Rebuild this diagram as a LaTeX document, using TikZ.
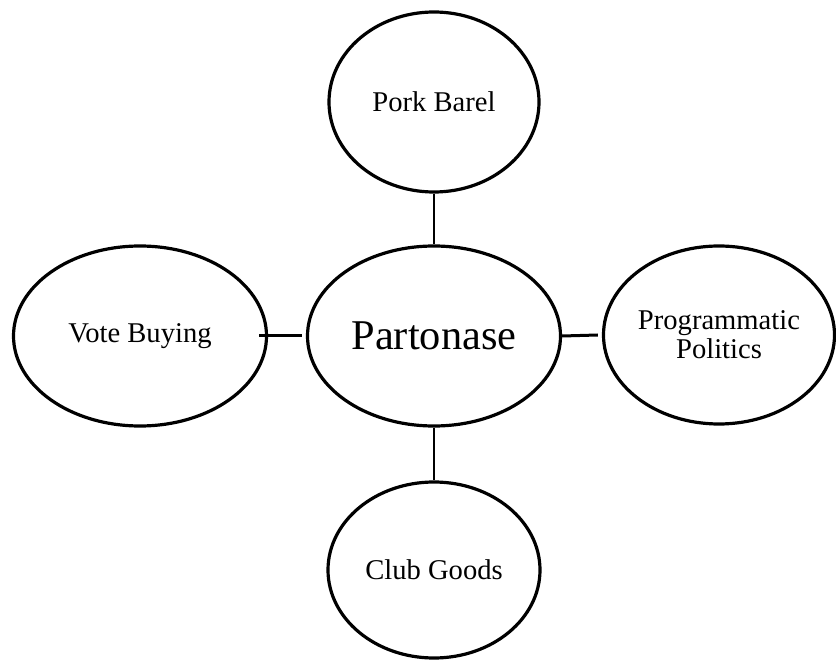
\documentclass[tikz,border=0pt]{standalone}
\usepackage{fontspec}
\setmainfont{Liberation Serif}
\usetikzlibrary{shapes.geometric}
\begin{document}
\begin{tikzpicture}[x=1pt,y=-1pt,
  bubble/.style={ellipse,draw=black,line width=3.2pt,inner sep=0pt,align=center,
    font=\fontsize{28.6}{29}\selectfont},
  vconn/.style={draw=black,line width=2pt},
  hconn/.style={draw=black,line width=3pt}]
\useasboundingbox (0,0) rectangle (836,660);
\node[bubble,minimum width=210pt,minimum height=180pt] (pb) at (434,102) {Pork Barel};
\node[bubble,minimum width=253pt,minimum height=180pt,font=\fontsize{42.4}{44}\selectfont] (p) at (434,336) {Partonase};
\node[bubble,minimum width=253pt,minimum height=180pt] (vb) at (140,336) {Vote Buying};
\node[bubble,minimum width=231pt,minimum height=178pt] (pp) at (719,335) {Programmatic\\Politics};
\node[bubble,minimum width=212pt,minimum height=176pt] (cg) at (434,570) {Club Goods};
\draw[vconn] (pb.south) -- (p.north);
\draw[vconn] (p.south) -- (cg.north);
\draw[hconn] ([xshift=-9pt]vb.east) -- ([xshift=-4pt]p.west);
\draw[hconn] (p.east) -- ([xshift=-4pt]pp.west);
\end{tikzpicture}
\end{document}
